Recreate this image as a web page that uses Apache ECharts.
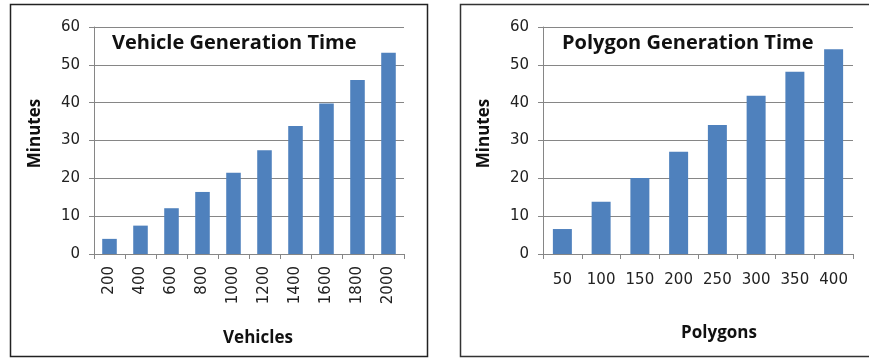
<!DOCTYPE html>
<html>
<head>
<meta charset="utf-8">
<script src="https://cdn.jsdelivr.net/npm/echarts@6/dist/echarts.min.js"></script>
<style>
  html, body { margin: 0; padding: 0; background: #fff; }
  #chart { width: 869px; height: 358px; }
</style>
</head>
<body>
<div id="chart"></div>
<script>
const vehicleCounts = ['200', '400', '600', '800', '1000', '1200', '1400', '1600', '1800', '2000'];
const vehicleMinutes = [4.0, 7.5, 12.1, 16.4, 21.5, 27.4, 33.8, 39.8, 46.0, 53.2];
const polygonCounts = ['50', '100', '150', '200', '250', '300', '350', '400'];
const polygonMinutes = [6.6, 13.8, 20.1, 27.0, 34.1, 41.8, 48.2, 54.1];
const minuteTicks = { min: 0, max: 60, interval: 10 };

const font = '"Open Sans", sans-serif';
const tickFont = '"DejaVu Sans", sans-serif';
const gray = '#868686';
const barColor = '#4F81BD';

function yAxisFor(gridIndex) {
  return {
    gridIndex,
    type: 'value',
    min: minuteTicks.min,
    max: minuteTicks.max,
    interval: minuteTicks.interval,
    name: 'Minutes',
    nameLocation: 'middle',
    nameGap: 50,
    nameTextStyle: { fontFamily: font, fontWeight: 'bold', fontSize: 17, color: '#111', padding: [0, 0, 0, 14] },
    axisLine: { show: true, lineStyle: { color: gray, width: 1 } },
    axisTick: { show: true, length: 5, lineStyle: { color: gray } },
    axisLabel: { fontFamily: tickFont, fontSize: 15, color: '#222', margin: 14 },
    splitLine: { show: true, lineStyle: { color: gray, width: 1 } }
  };
}

const chart = echarts.init(document.getElementById('chart'), null, { renderer: 'canvas' });

chart.setOption({
  animation: false,
  title: [
    { text: 'Vehicle Generation Time', left: 107, top: 28,
      textStyle: { fontFamily: font, fontWeight: 'bold', fontSize: 20, color: '#111' } },
    { text: 'Polygon Generation Time', left: 557, top: 28,
      textStyle: { fontFamily: font, fontWeight: 'bold', fontSize: 20, color: '#111' } }
  ],
  graphic: [
    { type: 'rect', shape: { x: 10.5, y: 4.5, width: 417, height: 352 },
      style: { fill: 'none', stroke: '#222', lineWidth: 1.5 }, silent: true },
    { type: 'rect', shape: { x: 460.5, y: 4.5, width: 420, height: 352 },
      style: { fill: 'none', stroke: '#333', lineWidth: 1.5 }, silent: true }
  ],
  grid: [
    { left: 94, top: 27, width: 310, height: 227 },
    { left: 543, top: 27, width: 310, height: 227 }
  ],
  xAxis: [
    {
      gridIndex: 0,
      type: 'category',
      data: vehicleCounts,
      name: 'Vehicles',
      nameLocation: 'middle',
      nameGap: 76,
      nameTextStyle: { fontFamily: font, fontWeight: 'bold', fontSize: 17, color: '#111', padding: [0, 0, 0, 18] },
      axisLine: { lineStyle: { color: gray } },
      axisTick: { show: true, length: 5, lineStyle: { color: gray } },
      axisLabel: { rotate: 90, fontFamily: tickFont, fontSize: 15, color: '#222', margin: 12 }
    },
    {
      gridIndex: 1,
      type: 'category',
      data: polygonCounts,
      name: 'Polygons',
      nameLocation: 'middle',
      nameGap: 71,
      nameTextStyle: { fontFamily: font, fontWeight: 'bold', fontSize: 17, color: '#111', padding: [0, 0, 0, 42] },
      axisLine: { lineStyle: { color: gray } },
      axisTick: { show: true, length: 5, lineStyle: { color: gray } },
      axisLabel: { fontFamily: tickFont, fontSize: 15, color: '#222', margin: 19 }
    }
  ],
  yAxis: [yAxisFor(0), yAxisFor(1)],
  series: [
    {
      type: 'bar', xAxisIndex: 0, yAxisIndex: 0,
      data: vehicleMinutes,
      barCategoryGap: '53%',
      itemStyle: { color: barColor }
    },
    {
      type: 'bar', xAxisIndex: 1, yAxisIndex: 1,
      data: polygonMinutes,
      barCategoryGap: '51%',
      itemStyle: { color: barColor }
    }
  ]
});
</script>
</body>
</html>
